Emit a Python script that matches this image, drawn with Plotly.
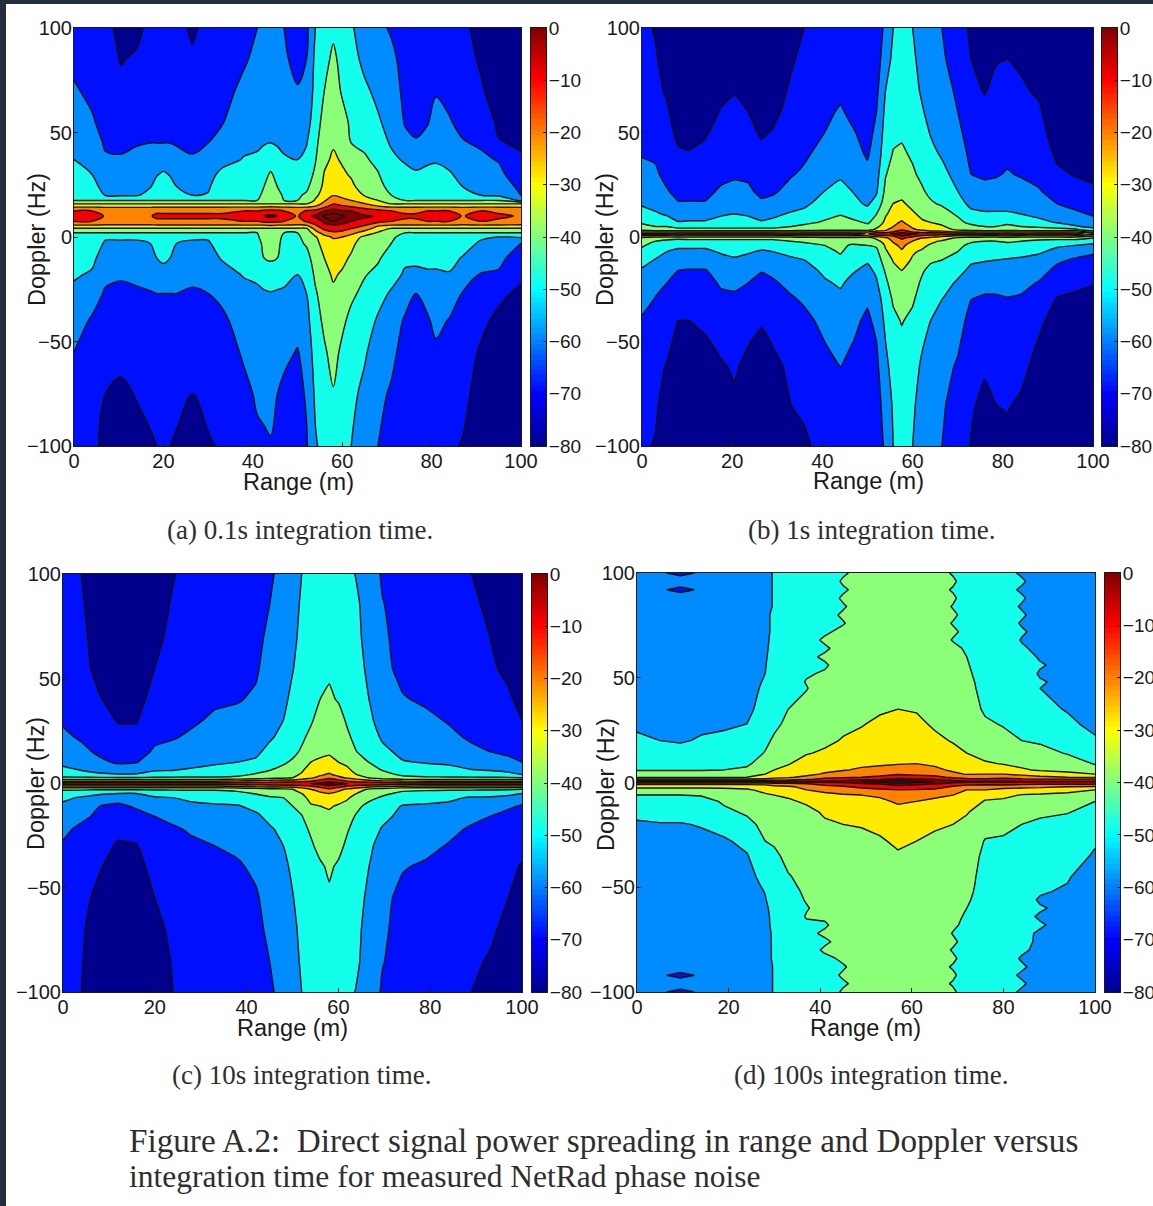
import numpy as np
import plotly.graph_objects as go

W, H = 1153, 1206
LEVEL_START, LEVEL_END, LEVEL_SIZE = -71, -8, 9
BAND_COLORS = ["#00008c", "#0010ff", "#008cff", "#14ffeb", "#8cff78", "#ffeb00", "#ff8200", "#f50000", "#820000"]
JET = [[0, "#00008f"], [0.125, "#0000ff"], [0.375, "#00ffff"], [0.625, "#ffff00"], [0.875, "#ff0000"], [1, "#800000"]]
X_TICKS = [0, 20, 40, 60, 80, 100]
Y_TICKS = [-100, -50, 0, 50, 100]
BAR_TICKS = [0, -10, -20, -30, -40, -50, -60, -70, -80]
BAR_LEVELS = list(range(-80, 1))

# ---- panel (a) 0.1 s ----
A_RANGE = [0,4,7,10.5,14,17,18.5,20,21.5,23,26.5,30,33,38,41,42.5,44,45.5,47,50,52,54,56,58,60,62,65,68,71,74,76.5,79,81,84,87,91,95,100]
A_DOPPLER = [100,85,70,55,45,37,30,24,20, 17.5,16,14.5,12.5,10,7.5,5.5,4,2, 0,-3,-10,-18,-27,-40,-55,-75,-100]
O = [-44,-36,-27,-21,-18,-21,-27,-36,-44]
R = [-44,-36,-27,-17,-11,-17,-27,-36,-44]
N = [-44,-36,-27,-19,-15,-19,-27,-36,-44]
DK = [-40,-36,-26,-14,-6,-14,-26,-36,-40]
NK = [-42,-36,-27,-15,-8,-15,-27,-36,-42]
A_COLS = [
 [-66,-64,-61,-58,-55,-53,-51,-49,-46,*R,-46,-47,-50,-52,-55,-58,-62,-65,-68],
 [-67,-66,-64,-61,-58,-56,-53,-51,-47,*R,-47,-48,-51,-54,-58,-63,-65,-66,-68],
 [-68,-67,-66,-65,-63,-61,-58,-55,-53.5,*O,-52,-54,-57,-60,-63,-66,-68,-71,-74],
 [-74,-71.5,-69,-66,-64,-61,-57,-55,-54,*O,-52,-54,-57,-61,-64,-66.5,-68,-73,-76],
 [-73,-70,-68,-65,-62.5,-60,-57,-55,-54,*O,-52,-54,-57,-60.5,-63,-66,-68,-70.5,-74],
 [-69,-68,-67,-65,-62,-59,-56,-53.5,-50,*O,-50,-53,-56,-59,-62.5,-65,-67,-69,-72],
 [-68.5,-67.5,-66.5,-64.5,-62,-58,-53.5,-50.5,-48,*N,-48,-50,-53,-57,-62,-64.5,-66.5,-68.5,-71],
 [-68,-67,-66,-64,-62,-57,-52,-49,-47,*N,-47,-48,-51.5,-56,-62,-64,-66,-68,-70],
 [-68.5,-67.5,-66.5,-64.5,-62,-58,-53.5,-50.5,-48,*N,-48,-50,-53,-57,-62,-64.5,-66.5,-68.5,-71],
 [-69,-68,-67,-65,-62.5,-60,-57,-53,-50,*N,-50,-53,-56,-59,-62,-65,-67,-69,-72],
 [-72,-70,-68,-66,-64,-61,-57,-55,-53,*N,-52,-54,-56.5,-60,-63,-65.5,-67,-71,-74],
 [-69,-68,-66.5,-64,-62,-59,-56,-54,-52.5,*N,-52,-54,-56,-59,-62,-64,-66,-68.5,-72],
 [-68,-67,-65,-62.5,-60,-56,-51,-48,-46,*N,-47,-49,-52.5,-56,-60,-64,-66,-68,-70],
 [-65,-63,-60,-58,-55,-52.5,-50,-48,-46,*R,-46,-48,-50,-52.5,-55.5,-58,-61,-64,-67],
 [-62,-60,-58,-56,-54,-52,-50,-48,-46,*R,-45,-47,-49,-52,-54,-56.5,-59,-61,-63.5],
 [-61,-59.5,-57.5,-55.5,-53.5,-49.5,-46.5,-44,-42,*NK,-41,-42,-44,-49,-54,-56.5,-58.5,-60.5,-63],
 [-60,-59,-57,-55,-53,-48,-43,-41,-41,*DK,-40,-41,-43,-48,-53.5,-56,-58,-60,-62.5],
 [-61,-60,-58,-56,-54,-49.5,-46.5,-44,-42,*NK,-41,-42,-44,-49,-54,-56.5,-59,-62,-65],
 [-62,-61,-59,-57,-55,-52,-49,-47,-45,*R,-46,-47,-49,-51,-54,-57,-60,-64,-66],
 [-66,-64,-61.5,-58,-55,-53,-49,-47,-45,*O,-45,-46,-49,-53,-56,-59,-62.5,-65,-66],
 [-64,-62,-60,-57,-53.5,-51,-48,-45.5,-43,-41,-36,-27,-16,-11,-16,-27,-36,-41,-42,-43,-47,-50,-53,-56,-59,-61,-63],
 [-53,-51,-50,-48,-46,-44.5,-42.5,-40,-37,-34,-30,-25,-15,-6,-13,-18,-23,-30,-36,-38,-40,-42.5,-45,-47,-49,-51.5,-54],
 [-50,-47,-44,-41,-39,-37,-34.5,-33,-31,-27,-24,-19,-8,-3.5,-6.5,-10,-15,-22,-29,-31,-35,-37.5,-40,-42.5,-45,-47,-50],
 [-46,-42,-40,-38,-36,-33.5,-31,-28.5,-26.5,-21,-18,-12,-5,-3,-4,-9,-14,-18,-25,-29,-31.5,-34,-36.5,-39,-41.5,-44.5,-48],
 [-49,-47,-45,-41,-38.5,-36,-33.5,-31,-28,-24,-20,-15,-7,-3.5,-6,-9,-13,-20,-26,-29,-33,-36,-39,-42.5,-45.5,-48,-51],
 [-52,-50,-48,-45.5,-44,-39,-36,-33,-30,-26,-22,-17,-8,-5,-8,-11,-17,-23,-30,-33,-36,-39,-42.5,-46,-49,-51,-53],
 [-57,-55,-51.5,-48,-45.5,-43,-41,-39,-35.5,-31,-26,-21,-12,-7,-10,-17,-22,-30,-37,-39,-41,-43.5,-46,-49,-52,-55,-58],
 [-60,-58,-55,-52,-49,-46,-43.5,-41,-38,-35,-30,-25,-14,-8.5,-14,-25,-30,-36,-40,-41,-43,-46,-50,-54,-57,-60,-62],
 [-63,-60,-58,-56,-54,-51,-49,-47,-44,-41,-36,-27,-17,-13,-17,-27,-36,-41,-43,-44,-47.5,-50,-54,-57,-60,-63,-65],
 [-66,-65,-64,-62.5,-60,-54,-50,-48,-46,*N,-46,-48,-51.5,-54,-58,-63,-65,-66.5,-68],
 [-67,-66,-65,-63.5,-61.5,-57,-51.5,-48,-46,*N,-46,-48,-51,-55,-62,-64,-66,-67,-69],
 [-67,-66,-64.5,-62.5,-60,-55,-50,-48,-46,*R,-46,-48,-51,-54,-59.5,-63,-65,-66.5,-69],
 [-66,-65,-62.5,-60,-57,-54,-50,-48,-46,*R,-46,-48,-51,-54,-57,-60,-63.5,-66,-68],
 [-67,-66,-64,-61.5,-59,-56,-52,-49,-46,*R,-46,-48,-51,-53.5,-58,-62.5,-66,-68,-70],
 [-69,-68,-66,-64,-61.5,-59,-56,-53,-50,*O,-48,-50,-53.5,-58,-62.5,-65,-67,-69,-71.5],
 [-74,-72,-70,-66,-63,-60.5,-58,-55,-53,*R,-52,-54,-58,-62.5,-65,-69,-72,-74,-76],
 [-78,-77,-75,-72.5,-70.5,-62.5,-60,-57,-54.5,*N,-53,-55,-60,-63,-69,-73,-75,-77,-79],
 [-78,-77,-76,-74,-72,-70,-67,-64,-62,-55,-36,-27,-21,-18,-21,-27,-36,-44,-52,-62,-66,-69,-73,-75,-76,-78,-79],
]

# ---- panel (b) 1 s ----
B_RANGE = [0,3,5.5,8,10.5,14,17.5,20.5,23.5,26.5,29,33,36,40.5,44,46.5,50,52,54,55.7,57.6,60,62,64,66.5,70,73,76,78.5,81,84,88,92,96,100]
B_DOPPLER = [100,85,70,60,50,40,30,22,16,11,7, 5,3.5,2.5,1.5,0.5,-0.5,-2, -4,-7,-11,-16,-22,-30,-40,-50,-62,-80,-100]
M = [-47,-41,-27,-10,-27,-41,-47]
MH = [-44,-41,-27,-12,-27,-41,-44]
B_COLS = [
 [-68,-67,-66,-65,-64,-62.5,-60,-58,-54,-50,-45,-42,-38,-27,-12,-27,-38,-41,-43,-46,-50,-54,-56.5,-59,-63,-65,-67,-69,-70],
 [-72,-70,-69,-67,-65,-63,-61,-59,-56,-52,-47,*MH,-47,-50,-53.5,-57,-60,-62.5,-65,-67,-69,-70,-71.5],
 [-76,-75,-72,-70,-68,-66,-64,-61.5,-59,-54,-49,-44,-42,-27,-12,-27,-41,-46,-49,-53,-56,-59,-62,-64,-67,-69,-71.5,-74,-76],
 [-78,-77,-76,-75,-73,-70,-67,-64,-61.5,-57,-52.5,-46,-42,-27,-10,-27,-42,-47,-51,-55,-58,-62,-65,-68,-71,-73,-75,-77,-78],
 [-78,-78,-77,-76,-74,-70.5,-67,-64,-61.5,-57,-52,*M,-51,-55,-58,-62.5,-65,-68,-71,-73,-75,-77,-78],
 [-78,-77,-76,-75,-72,-69,-66,-64,-61.5,-57,-52,*M,-51,-55,-58,-62.5,-65,-67,-69,-72,-74,-76,-77],
 [-76,-75,-73,-70.5,-68,-66,-64,-61,-58,-54,-50,*M,-49,-52,-56,-59,-61,-64,-67,-69,-72,-74,-76],
 [-75,-74,-71.5,-69,-67,-65,-63,-60,-57,-53,-49,*M,-48,-51,-54,-57,-60,-64,-66,-68,-70,-72.5,-74],
 [-76,-75,-73,-71,-69,-66,-63,-61,-58,-54,-50,*M,-49,-52,-56,-60,-62,-65,-68,-70.5,-73,-75,-77],
 [-78,-77,-76,-75,-72,-69,-66,-63.5,-61,-57,-52,*M,-50,-54,-58,-61.5,-65,-67,-70,-73,-75,-77,-78],
 [-77,-76,-74.5,-73,-70.5,-67,-65,-63,-60,-55,-51,*M,-50,-53,-57,-60.5,-63,-65,-68,-70.5,-73,-75,-77],
 [-74,-72,-70,-68.5,-67,-65,-62.5,-60,-57,-52,-48,*MH,-47,-51.5,-54,-57,-60,-63,-66,-68,-69.5,-71,-73],
 [-71,-69,-68,-66,-65,-63,-61,-58,-54.5,-51,-46,-42,-40,-27,-10,-27,-40,-43,-46,-49,-53,-56,-58.5,-61,-64,-66,-68,-70,-72],
 [-69,-68,-66,-64,-62,-60,-57,-53,-50,-47,-43,-40,-38,-27,-10,-27,-38,-41,-44,-47,-49,-51.5,-54,-57,-60,-62,-65,-68,-69],
 [-68,-67,-64,-61,-59,-57,-54,-51,-48,-44.5,-41,-40,-38,-27,-10,-27,-38,-40,-42,-43,-46,-49,-52,-55,-57.5,-59,-62,-65,-68],
 [-70,-69,-67,-64,-61,-59,-56,-53,-51,-47,-42,-41,-38,-27,-10,-27,-38,-41,-45,-48,-50,-52,-55,-58,-60,-61.5,-66,-69,-71],
 [-70,-69,-68,-67,-65,-63,-60,-57,-54,-50,-45,-42,-39,-27,-18,-27,-39,-41,-44,-47,-52,-55,-58,-61,-63.5,-66,-68,-70,-70],
 [-67,-66,-64,-62,-60,-58,-56,-54,-50,-44,-41,-37,-33,-22,-8,-22,-33,-38,-43,-46,-49,-51.5,-54,-57,-60,-62,-64,-66,-68],
 [-60,-57,-53,-51,-49.5,-48,-44.5,-42,-39,-36,-33,-30,-27,-24,-10,-20,-28,-31,-34,-36,-39,-43,-46,-49,-51,-53,-55,-58,-60],
 [-53,-51,-49,-48,-46,-43.5,-41,-39,-35,-32,-28,-26,-23,-17,-7,-17,-22,-25,-28,-32,-34.5,-37,-39.5,-43,-46,-48,-50,-52,-53],
 [-50,-49,-48,-47,-45,-43,-40,-37.5,-34,-30,-25,-22,-18,-10,-5,-8,-15,-20,-24,-27,-31,-35,-38,-41,-43.5,-45.5,-47,-49,-50],
 [-53,-51,-50,-48,-46.5,-45,-43,-40,-37,-34,-30,-27,-25,-18,-6,-14,-22,-26,-30,-34,-36,-39,-41,-43,-46,-48,-50,-51.5,-53],
 [-58,-56.5,-54,-52,-50,-48,-45.5,-43,-40,-36.5,-34,-31,-27,-22,-9,-19,-26,-30,-33,-36,-40,-43,-45,-47.5,-50,-52,-54,-56.5,-58],
 [-61,-60,-58,-56,-53.5,-51,-49,-46,-43,-40,-35,-32,-29,-24,-9,-22,-28,-33,-36,-40,-43,-46,-49,-51,-53,-55,-57,-59,-61],
 [-62,-61,-59.5,-58,-56,-54,-50.5,-48,-45,-41,-37,-34,-30,-24,-10,-24,-30,-36,-39,-42,-44,-47,-50,-53,-55,-57,-59,-61,-62],
 [-66,-65,-63,-62,-60,-58,-56,-53,-50,-45,-42,-39,-37,-27,-10,-27,-37,-40,-42,-44,-48,-51,-54,-56,-58.5,-60.5,-63,-65,-67],
 [-73,-71,-69,-67,-66,-64,-62,-59,-55,-51,-46,-42,-40,-27,-10,-27,-40,-43,-46,-49,-52,-54.5,-58,-62,-65,-67,-69,-70,-71.5],
 [-76,-75,-71.5,-69,-67,-65,-63,-60,-56,-52,-48,*MH,-47,-50,-52.5,-56,-60,-63,-65.5,-68,-70,-73,-75],
 [-74,-71.5,-69,-67,-65,-64,-62.5,-60,-56,-52,-48,*MH,-47,-50,-53,-56,-60,-63,-65,-67,-69,-71,-73],
 [-73,-71,-68,-67,-65,-63.5,-61.5,-59,-56,-52,-46,-42,-40,-27,-10,-27,-40,-43,-46,-50,-53.5,-56,-59,-62.5,-64.5,-66,-68,-70.5,-73],
 [-74,-72,-70,-68,-66,-64.5,-62.5,-60,-57,-53,-48,*MH,-47,-51,-54,-57.5,-60,-63,-65.5,-67,-69,-72,-74],
 [-76,-75,-72,-70,-68,-66,-64,-61.5,-59,-55,-51,-45,-41,-27,-10,-27,-41,-46,-49,-52,-55.5,-59,-62.5,-66,-69.5,-71.5,-73.5,-76,-77],
 [-78,-78,-77,-76,-75,-72.5,-69.5,-65,-62,-58,-53.5,-47,-41,-27,-10,-27,-41,-47,-52,-55,-60.5,-64,-68,-71.5,-74,-76,-77,-78,-79],
 [-79,-79,-78,-78,-77,-75,-71.5,-68,-65,-60,-56,-52,-42,-27,-12,-27,-41,-47,-53,-59,-63,-66,-69,-73,-75.5,-77,-78,-79,-79],
 [-79,-79,-79,-78,-78,-76,-73,-69.5,-67,-63,-59,-55,-50,-40,-22,-35,-44,-50,-55,-61,-64,-67,-70.5,-74,-76,-78,-78,-79,-79],
]

# ---- panel (c) 10 s ----
C_RANGE = [0,4,8,12,16,20,24,28,33,38,42,45,48,50,52,54,56,58,60,62,64,67,69.5,74,79,84,89,93,97,100]
C_DOPPLER = [100,85,70,55,40,30,22,15,10,6, 4,2.5,1.2,-0.3,-1.8,-3,-5, -7,-11,-16,-22,-30,-40,-55,-70,-85,-100]
C_COLS = [
 [-70,-69,-68,-67,-65,-63,-60.5,-58,-55,-51,-47,-43,-30,-12,-30,-43,-47,-51,-55,-57.5,-60,-63,-65,-67,-68,-69,-70],
 [-71,-70,-69,-68,-66.5,-65,-63,-60,-57,-53,-48,-43,-30,-12,-30,-43,-48,-54,-57,-60,-64,-66,-67.5,-69,-70,-70.5,-71],
 [-77,-76,-75,-74,-70.5,-68,-66,-63.5,-60.5,-56,-51,-43,-30,-12,-30,-43,-52,-56,-62,-64,-66,-68,-70.5,-73,-75,-76,-77],
 [-79,-78,-78,-77,-74,-71.5,-69,-66,-63,-58,-52,-43,-30,-12,-30,-43,-53,-59,-63.5,-66,-69,-72,-74,-77,-78,-78,-79],
 [-79,-78,-77,-76,-74,-71.5,-69,-65,-62.5,-57,-52,-43,-30,-12,-30,-43,-53,-58,-61,-64.5,-68,-71.5,-74,-76,-77,-78,-79],
 [-76,-75,-73,-71,-68,-66,-63.5,-61,-57,-53.5,-49,-43,-30,-12,-30,-43,-49,-54,-58,-62,-64,-66,-68,-71,-73,-74,-75],
 [-71.5,-70,-69,-67,-65.5,-64,-62.5,-60,-57,-53,-48,-43,-30,-12,-30,-43,-48,-53,-57,-60,-63,-65,-66.5,-68,-69.5,-70.5,-71],
 [-68,-67,-66,-65,-64,-63,-61,-58,-55.5,-52,-47,-43,-30,-12,-30,-43,-47,-51,-55,-58,-61,-63.5,-65,-66,-67,-68,-69],
 [-67,-66,-65,-64,-63,-61,-59,-57,-54,-51,-47,-43,-30,-12,-30,-43,-47,-50,-54,-56.5,-59,-62,-64,-65,-66,-67,-68],
 [-66,-65.5,-65,-64,-62.5,-60,-58,-55.5,-53,-49,-46,-42,-28,-12,-28,-42,-46,-49,-53.5,-55.5,-58,-60.5,-63,-64,-65,-66,-67],
 [-65,-64.5,-64,-63,-61,-59,-57,-54.5,-52,-46.5,-43,-40,-26,-11,-26,-40,-43.5,-47,-51,-54.5,-56.5,-58,-60.5,-63,-64,-65,-66],
 [-63,-62,-60.5,-59,-57.5,-56,-54,-51,-48,-44,-42,-38,-25,-11,-25,-38,-41,-45,-48,-51,-54,-56,-57.5,-59,-60.5,-62,-63],
 [-60,-59.5,-58,-57,-55,-53,-51,-48,-45,-42,-39,-37,-24,-10,-24,-37,-40,-44,-46.5,-48.5,-51,-53,-55,-57,-58,-59,-60],
 [-58,-57,-55.5,-53.5,-51,-50,-48,-46,-43,-40,-37,-35,-24,-10,-24,-35,-38,-41,-44,-46,-48,-50,-51.5,-53.5,-55.5,-57,-58],
 [-53,-51.5,-50.5,-49.5,-48,-47,-45.5,-43,-40,-36,-34,-31,-22,-9,-22,-31,-35,-38,-41,-44.5,-46,-47.5,-48.5,-49.5,-50.5,-51.5,-53],
 [-51,-50,-49,-48,-46.5,-45,-42,-38,-35,-31,-29,-27,-20,-8,-20,-26,-29,-32,-36,-39,-43,-45,-46.5,-48,-49,-50,-51],
 [-50,-49,-48,-46.5,-44,-41,-38.5,-36.5,-34,-29,-27,-24,-15,-6,-15,-24,-27,-30,-35,-37,-39.5,-42,-45,-47,-48,-49,-50],
 [-49,-48,-47,-45,-43,-40,-38,-36,-33,-28,-25,-19,-11,-3,-11,-18,-26,-30,-34,-37,-39,-41,-43,-45,-47,-48,-49],
 [-50,-49,-48,-47,-44.5,-41.5,-39.5,-37,-35,-30,-28,-24,-14,-5,-14,-24,-28,-31,-36,-38,-40,-42,-45,-47,-48,-49,-50],
 [-51,-50.5,-50,-49,-47,-45,-43,-40,-37.5,-33,-31,-27,-20,-8,-20,-27,-31,-34,-38,-41,-43.5,-45.5,-47,-49,-50,-50.5,-51],
 [-53.5,-52,-51.5,-50.5,-49,-48,-46,-44,-41,-38,-35,-30,-22,-9,-22,-30,-35,-38,-42,-45,-46.5,-48,-49,-50.5,-51.5,-52,-53.5],
 [-57,-56.5,-56,-55,-53.5,-52,-49.5,-47,-44.5,-41,-39,-36,-25,-10,-25,-37,-40,-42,-47,-48.5,-50,-52,-53.5,-55,-56,-56.5,-57],
 [-63,-61.5,-60.5,-60,-58,-56,-54,-51,-47.5,-44,-42,-39,-27,-11,-27,-39,-42,-45,-49,-51,-53.5,-56,-58,-60,-60.5,-61.5,-63],
 [-66,-65.5,-65,-64,-61.5,-59,-57,-55,-52.5,-48,-45,-42,-29,-12,-29,-42,-46,-48,-53.5,-55,-57,-59,-61.5,-64,-65,-65.5,-66],
 [-68,-67,-66,-65,-63,-60.5,-58,-56,-53.5,-50,-46,-43,-30,-12,-30,-43,-46,-50,-54,-56,-58,-60,-63,-65,-66,-67,-68],
 [-68,-67.5,-67,-66,-64.5,-62.5,-60.5,-58,-54,-51,-47,-43,-30,-12,-30,-43,-47,-51,-55,-57,-60,-62.5,-64.5,-66,-67,-67.5,-68.5],
 [-71,-70,-69,-68,-66.5,-65,-63,-60.5,-57,-52.5,-48,-43,-30,-12,-30,-43,-48,-54,-57,-60,-63,-65,-66.5,-68,-69,-70,-71],
 [-73,-72,-71,-70,-68.5,-67,-65,-62,-58,-53,-49,-43,-30,-12,-30,-43,-49,-54,-58,-62,-64.5,-66.5,-68,-69,-70,-71.5,-73],
 [-76,-75,-74,-72.5,-70,-68.5,-66.5,-63.5,-60,-55,-50,-43,-30,-12,-30,-43,-50,-56,-61,-64,-66.5,-68,-69.5,-71,-72.5,-74,-75],
 [-78,-77,-76,-75,-73,-71,-69,-66,-62,-57,-53,-44,-30,-12,-30,-44,-53,-58,-62.5,-65,-67,-69.5,-71.5,-73,-74.5,-76,-77],
]

# ---- panel (d) 100 s ----
D_RANGE = [0,5,9.5,14,19,24,28,30,33,37,41,45,49,53,57,61,65,69,72,76,80,84,88,94,100]
D_DOPPLER = [100,96,92,88,84,80,76,72,68,64,60,56,52,48,45,
             35,28,20,14,9,6,4,2.5,1.5,0.4,-0.7,-2,-3.5,-6,-9,-14,-20,-28,-35,
             -45,-48,-52,-56,-60,-64,-68,-72,-76,-80,-84,-88,-92,-96,-100]
D_COLS = [
 [-60,-60,-60,-60,-60,-59.5,-59,-59,-58.5,-58.5,-58,-58,-57.5,-57.5,-57, -55,-54,-52,-49,-46,-44.5,-41,-36,-24,-6,-24,-33,-38,-44,-47,-51,-54,-55.5,-56.5, -57.5,-57.5,-58,-58,-58.5,-58.5,-59,-59,-59.5,-60,-60,-60,-60,-60,-60],
 [-61.5,-60,-61.5,-60,-59,-59,-59,-58.5,-58.5,-58,-58,-58,-57.5,-57.5,-57, -56,-55,-53,-50,-47,-44.5,-41,-36,-24,-6,-24,-33,-38,-44,-47,-50,-53.5,-55.5,-57, -58,-58,-58,-58.5,-59,-59,-59.5,-59.5,-60,-60,-60,-60,-61.5,-60,-61.5],
 [-63,-60,-63,-60,-59,-59,-59,-58.5,-58.5,-58,-58,-58,-57.5,-57.5,-57, -56,-55,-53.5,-51,-47.5,-44.5,-41,-36,-24,-6,-24,-33,-38,-44,-47,-50,-53.5,-55.5,-57, -58,-58,-58,-58.5,-59,-59,-59.5,-59.5,-60,-60,-60,-60,-63,-60,-63],
 [-61.5,-58.5,-61.5,-58.5,-58,-58,-58,-58,-57.5,-57.5,-57,-57,-56.5,-56.5,-56, -55,-54,-52.5,-50,-47,-44.5,-41,-36,-24,-6,-24,-33,-38,-43.5,-47,-50,-52.5,-55,-56, -57,-57,-57.5,-57.5,-58,-58,-58.5,-58.5,-59,-59,-59,-59,-61.5,-59,-61.5],
 [-57,-57,-57,-57,-57,-57,-57,-57,-56.5,-56.5,-56.5,-56.5,-56,-56,-56, -55,-54,-51.5,-49,-46,-44,-40,-36,-24,-6,-24,-33,-37,-41,-43,-45.5,-50,-54,-55.5, -56.5,-56.5,-56.5,-57,-57,-57,-57.5,-57.5,-58,-58,-58,-58,-58,-58,-58],
 [-56,-56,-56,-56,-56,-56,-56,-56,-55.5,-55.5,-55.5,-55.5,-55,-55,-55, -54.5,-53,-50,-48,-45,-43,-39,-35,-24,-6,-24,-32,-36,-39,-41,-43,-46,-51,-53.5, -55,-55,-55.5,-55.5,-56,-56,-56,-56.5,-56.5,-56.5,-56.5,-56.5,-57,-57,-57],
 [-54.5,-54.5,-54.5,-54.5,-54.5,-54,-54,-54,-54,-53.7,-53.5,-53.2,-53,-52.5,-52, -50.5,-49,-46,-43.5,-41,-39,-35,-31,-24,-6,-24,-30,-33,-36,-38,-40,-42,-44,-47, -51,-52,-52.8,-53.3,-54,-54.3,-54.5,-54.7,-55,-55,-55,-55,-55,-55,-55],
 [-52.5,-52.5,-52.5,-52.5,-52.5,-52,-52,-52,-51.5,-51.5,-51,-51,-50.5,-50.5,-50, -48,-46,-42.5,-40,-37,-35,-33,-29,-22,-6,-22,-28,-31,-35,-37,-39,-41,-43,-45.5, -48,-48.5,-49.5,-50.5,-51,-51.5,-51.5,-52,-52,-52,-52,-52.5,-52.5,-52.5,-52.5],
 [-51,-51,-51,-51,-50.5,-50,-50,-49.5,-49.5,-49,-49,-48.5,-48,-47.5,-47, -44,-42,-40,-38,-35.5,-33,-31,-27,-21,-6,-21,-27,-30,-34,-36,-38,-40,-41,-42, -44.5,-45,-46,-46.5,-47,-47.5,-48,-48.5,-49,-49,-49.5,-49.5,-50,-50,-50],
 [-50,-50,-49.5,-49,-48.5,-48,-47.5,-47,-46.5,-46,-45.5,-45.5,-44.7,-43.6,-44.4, -41,-40,-38,-35.5,-32,-30,-28,-24,-18,-6,-18,-24,-26,-30,-34,-37,-39,-40,-41, -42,-42.5,-43,-43.6,-44.4,-43.6,-45,-45.5,-46,-47,-47.5,-48,-48.5,-49,-49],
 [-48,-48,-47.5,-47,-46.5,-46,-45.5,-45,-43,-45,-43,-44.8,-43.3,-42,-40, -39,-38,-36.5,-34,-31,-28,-25,-20,-14,-6,-14,-20,-24,-28,-31,-34,-36,-38,-39.5, -40,-40.5,-41,-41.5,-42,-43,-44.8,-43,-45,-43,-45.5,-46,-46.5,-47,-47.5],
 [-44.8,-43.2,-44.8,-43.2,-44.6,-43.2,-44.4,-42.5,-42,-41.5,-41,-41,-40,-39.5,-39, -37.5,-36.5,-34.5,-32,-29,-26.5,-23,-18.5,-12,-5,-12,-18,-23,-26.5,-29,-32,-35,-37,-38.5, -39.5,-40,-40,-40.5,-40.5,-41,-41,-41.5,-42,-42.5,-43,-44.6,-43.2,-44.8,-43.2],
 [-42,-42,-42,-42,-41.5,-41.5,-41,-41,-41,-40.5,-40.5,-40.5,-40,-40,-39.5, -37,-35.5,-33,-31,-27.5,-25,-21,-17,-9,-4,-9,-15,-20,-26,-28,-31,-34.5,-37,-38, -39,-39,-39.5,-39.5,-40,-40,-40.5,-40.5,-41,-41,-41.5,-41.5,-42,-42,-42],
 [-41,-41,-41,-41,-40.5,-40.5,-40,-40,-40,-39.5,-39.5,-39,-38.5,-38,-37.5, -36,-33.5,-31,-29,-27,-24,-20,-15,-8,-3,-8,-13,-18.5,-25,-27.5,-29.5,-33,-36,-37.5, -38.5,-38.5,-39,-39,-39.5,-39.5,-40,-40,-40,-40,-40.5,-40.5,-41,-41,-41],
 [-40,-40,-40,-40,-39.5,-39.5,-39.5,-39,-39,-39,-38.5,-38,-38,-37.5,-37, -35,-32,-30,-28,-26.5,-22,-18,-11,-6,-2,-5,-10,-17,-22,-25,-28.5,-31,-33.5,-36, -37,-37,-37.5,-38,-38,-38.5,-38.5,-39,-39.5,-39.5,-40,-40,-40,-40,-40],
 [-40.5,-40.5,-40.5,-40.5,-40,-40,-40,-39.5,-39.5,-39,-39,-38.5,-38.5,-38,-37.5, -35.5,-33.5,-31,-28.5,-26,-22.5,-19,-12.5,-7,-3,-6.5,-11,-17.5,-22,-26,-29,-32,-35,-37, -38,-38,-38.5,-38.5,-39,-39,-39.5,-39.5,-40,-40,-40,-40.5,-40.5,-40.5,-40.5],
 [-41.5,-41.5,-41.5,-41.5,-41,-41,-41,-40.5,-40.5,-40,-40,-39.5,-39,-39,-38.5, -37.5,-36,-33.5,-31,-27.5,-24,-20,-14,-8,-4,-8,-13,-18.5,-24,-28,-31.5,-34,-36.5,-38, -39,-39,-39.5,-39.5,-40,-40,-40.5,-40.5,-41,-41,-41,-41.5,-41.5,-41.5,-41.5],
 [-44.6,-43,-44.6,-43,-44.4,-43,-44.4,-43,-44.4,-42.5,-41,-40.5,-40.5,-40,-40, -39,-38,-35.5,-33,-30,-27.5,-24,-19,-11,-5,-11,-18,-23,-26,-29,-32,-35,-37.5,-39, -40,-40,-40.5,-41,-41,-42,-43,-44.3,-43,-44.5,-43,-44.6,-43,-44.6,-43],
 [-47,-47,-47,-47,-46.5,-46,-46,-45.5,-45,-44.8,-44,-43.5,-43,-42.5,-42, -40.5,-39.5,-38,-35,-32,-29.5,-26.5,-21,-14,-6,-14,-21,-26,-29,-31,-34.5,-36.5,-38,-39.5, -41,-41.5,-42,-43,-44,-45,-45.5,-46,-46,-46,-46.5,-46.5,-47,-47,-47],
 [-49,-49,-49,-49,-48.5,-48.5,-48,-48,-48,-47.5,-47.5,-47,-46.5,-46,-46, -45,-43,-40,-38,-34,-31,-26,-22,-15,-6,-15,-22,-26,-33,-35.5,-38,-41,-44.5,-46, -47,-47,-47.5,-47.5,-48,-48,-48,-48.5,-48.5,-48.5,-49,-49,-49,-49,-49],
 [-51,-51,-51,-51,-50.5,-50,-50,-50,-49.5,-49.5,-49,-49,-48.5,-48.5,-48, -46.5,-44.5,-42,-39.5,-35.5,-31.5,-26,-20,-14,-6,-14,-22,-29,-33,-36.5,-39,-42,-45,-47, -48,-48,-48.5,-48.5,-49,-49,-49.5,-49.5,-50,-50,-50,-50.5,-51,-51,-51],
 [-53.8,-52.2,-53.8,-52.2,-53.6,-52.2,-53.6,-52.2,-53.4,-52.2,-50,-50,-49,-49,-48.5, -47.5,-46,-44,-41,-37,-34,-28,-22,-15,-7,-15,-23,-30,-35.5,-39,-42,-44,-47,-48, -49.5,-50,-50,-50,-50.5,-51,-51,-51.5,-51.5,-52,-53.6,-52.2,-53.8,-52.2,-53.8],
 [-56,-56,-56,-56,-55.5,-55.5,-55,-55,-55,-54.5,-53.8,-52.3,-53.8,-52.3,-53, -51,-49,-45,-41.5,-38,-36,-30,-24,-16,-7,-16,-24,-31,-36,-39,-42,-46,-48,-49.5, -51,-51,-52.2,-53.8,-52.3,-53.8,-52.3,-53.8,-54,-54.5,-55,-55,-55,-55.5,-56],
 [-57,-57,-57,-57,-57,-57,-56.5,-56.5,-56.5,-56,-56,-55.5,-55.5,-55,-55, -53.5,-51.5,-48,-44.5,-40,-37,-33,-26,-16,-7,-16,-26,-32,-37.5,-40,-43.5,-47,-49.5,-51, -52.7,-53,-54,-54,-55,-55,-55.5,-55.5,-56,-56,-56.5,-56.5,-57,-57,-57],
 [-58,-58,-58,-58,-58,-58,-58,-57.5,-57.5,-57.5,-57.5,-57.5,-57,-57,-57, -56,-55,-52,-47.5,-44.5,-41,-35,-27,-16,-7,-16,-27,-35,-40,-44,-47,-50,-52.5,-53.5, -55,-55,-55.5,-55.5,-56,-56,-56.5,-56.5,-57,-57,-57.5,-57.5,-57.5,-58,-58],
]

CAPTIONS = ["(a) 0.1s integration time.", "(b) 1s integration time.", "(c) 10s integration time.", "(d) 100s integration time."]
FIG_CAPTION_1 = "Figure A.2:  Direct signal power spreading in range and Doppler versus"
FIG_CAPTION_2 = "integration time for measured NetRad phase noise"
X_TITLE = "Range (m)"
Y_TITLE = "Doppler (Hz)"

# layout in pixels: plot x0,x1,y0,y1, bar x0,x1, caption centre, x-title centre, y-title centre
PANELS = [
    (A_RANGE, A_DOPPLER, A_COLS, (74, 521, 28, 446), (531, 546), (300, 530), (298, 482), (37, 240)),
    (B_RANGE, B_DOPPLER, B_COLS, (642, 1093, 28, 446), (1102, 1117), (871, 530), (868, 481), (605, 240)),
    (C_RANGE, C_DOPPLER, C_COLS, (63, 522, 574, 992), (532, 547), (301, 1075), (292, 1028), (36, 784)),
    (D_RANGE, D_DOPPLER, D_COLS, (637, 1095, 573, 992), (1105, 1120), (871, 1075), (865, 1028), (606, 785)),
]
SANS = "Liberation Sans"
SERIF = "Liberation Serif"
INK = "#1a1a1a"
CAP_INK = "#2e2e2e"

def fx(p):
    return p / W
def fy(p):
    return 1 - p / H

fig = go.Figure()
layout = {}
annotations = []
band_scale = [[i / (len(BAND_COLORS) - 1), c] for i, c in enumerate(BAND_COLORS)]

for i, (rng, dop, cols, box, bar, cap, xt, yt) in enumerate(PANELS):
    n = 2 * i + 1
    xa, ya = f"x{n}", f"y{n}"
    xb, yb = f"x{n+1}", f"y{n+1}"
    for c in cols:
        assert len(c) == len(dop), (i, len(c), len(dop))
    assert len(cols) == len(rng), (i, len(cols), len(rng))
    z = np.array(cols, dtype=float).T[::-1]
    y = dop[::-1]
    smooth = 1.0 if i == 0 else (0.3 if i < 3 else 0)
    fig.add_trace(go.Contour(
        x=rng, y=y, z=z, xaxis=xa, yaxis=ya, showscale=False,
        autocontour=False, colorscale=band_scale,
        contours=dict(coloring="fill", start=LEVEL_START, end=LEVEL_END, size=LEVEL_SIZE),
        line=dict(color="#111111", width=1.4, smoothing=smooth),
        hoverinfo="skip"))
    fig.add_trace(go.Contour(
        x=rng, y=y, z=z, xaxis=xa, yaxis=ya, showscale=False,
        autocontour=False,
        contours=dict(coloring="none", start=-4, end=-4, size=1),
        line=dict(color="#111111", width=1.4, smoothing=smooth),
        hoverinfo="skip"))
    fig.add_trace(go.Heatmap(
        x=[0, 1], y=BAR_LEVELS, z=[[v, v] for v in BAR_LEVELS], xaxis=xb, yaxis=yb,
        showscale=False, colorscale=JET, zmin=-80, zmax=0, hoverinfo="skip"))
    x0, x1, y0, y1 = box
    common = dict(showline=True, linecolor=INK, linewidth=1, mirror=True, ticks="inside",
                  ticklen=4, tickcolor=INK, zeroline=False, ticklabelstandoff=-3,
                  showgrid=True, gridcolor="rgba(40,60,60,0.45)", griddash="dot", gridwidth=1,
                  layer="above traces", tickfont=dict(family=SANS, size=20, color=INK))
    layout[f"xaxis{n}"] = dict(domain=[fx(x0), fx(x1)], anchor=ya, range=[0, 100], tickvals=X_TICKS, **common)
    layout[f"yaxis{n}"] = dict(domain=[fy(y1), fy(y0)], anchor=xa, range=[-100, 100], tickvals=Y_TICKS, **common)
    layout[f"xaxis{n+1}"] = dict(domain=[fx(bar[0]), fx(bar[1])], anchor=yb, range=[0, 1], showticklabels=False,
                                 ticks="", showgrid=False, zeroline=False, showline=True, linecolor=INK, mirror=True)
    layout[f"yaxis{n+1}"] = dict(domain=[fy(y1), fy(y0)], anchor=xb, side="right", range=[-80, 0], tickvals=BAR_TICKS,
                                 showgrid=False, zeroline=False, showline=True, linecolor=INK, mirror=True,
                                 ticks="inside", ticklen=3, tickcolor=INK, ticklabelstandoff=-2,
                                 tickfont=dict(family=SANS, size=19, color=INK))
    annotations.append(dict(text=X_TITLE, x=fx(xt[0]), y=fy(xt[1]), xref="paper", yref="paper", showarrow=False,
                            xanchor="center", yanchor="middle", font=dict(family=SANS, size=23.5, color=INK)))
    annotations.append(dict(text=Y_TITLE, x=fx(yt[0]), y=fy(yt[1]), xref="paper", yref="paper", showarrow=False,
                            textangle=-90, xanchor="center", yanchor="middle", font=dict(family=SANS, size=23.5, color=INK)))
    annotations.append(dict(text=CAPTIONS[i], x=fx(cap[0]), y=fy(cap[1]), xref="paper", yref="paper",
                            showarrow=False, xanchor="center", yanchor="middle",
                            font=dict(family=SERIF, size=27, color=CAP_INK)))

annotations.append(dict(text=FIG_CAPTION_1, x=fx(127), y=fy(1140), xref="paper", yref="paper", showarrow=False,
                        xanchor="left", yanchor="middle", font=dict(family=SERIF, size=33.2, color=CAP_INK)))
annotations.append(dict(text=FIG_CAPTION_2, x=fx(127), y=fy(1176), xref="paper", yref="paper", showarrow=False,
                        xanchor="left", yanchor="middle", font=dict(family=SERIF, size=31.5, color=CAP_INK)))

DARK = "#232f3e"
shapes = [
    dict(type="rect", xref="paper", yref="paper", x0=0, x1=fx(6), y0=0, y1=1, fillcolor=DARK, line_width=0, layer="below"),
    dict(type="rect", xref="paper", yref="paper", x0=0, x1=1, y0=fy(4), y1=1, fillcolor=DARK, line_width=0, layer="below"),
]

fig.update_layout(width=W, height=H, margin=dict(l=0, r=0, t=0, b=0, autoexpand=False), paper_bgcolor="white",
                  plot_bgcolor="white", showlegend=False, annotations=annotations, shapes=shapes, **layout)
fig.write_html("out.html", config=dict(displayModeBar=False), post_script="document.body.style.margin='0';")
